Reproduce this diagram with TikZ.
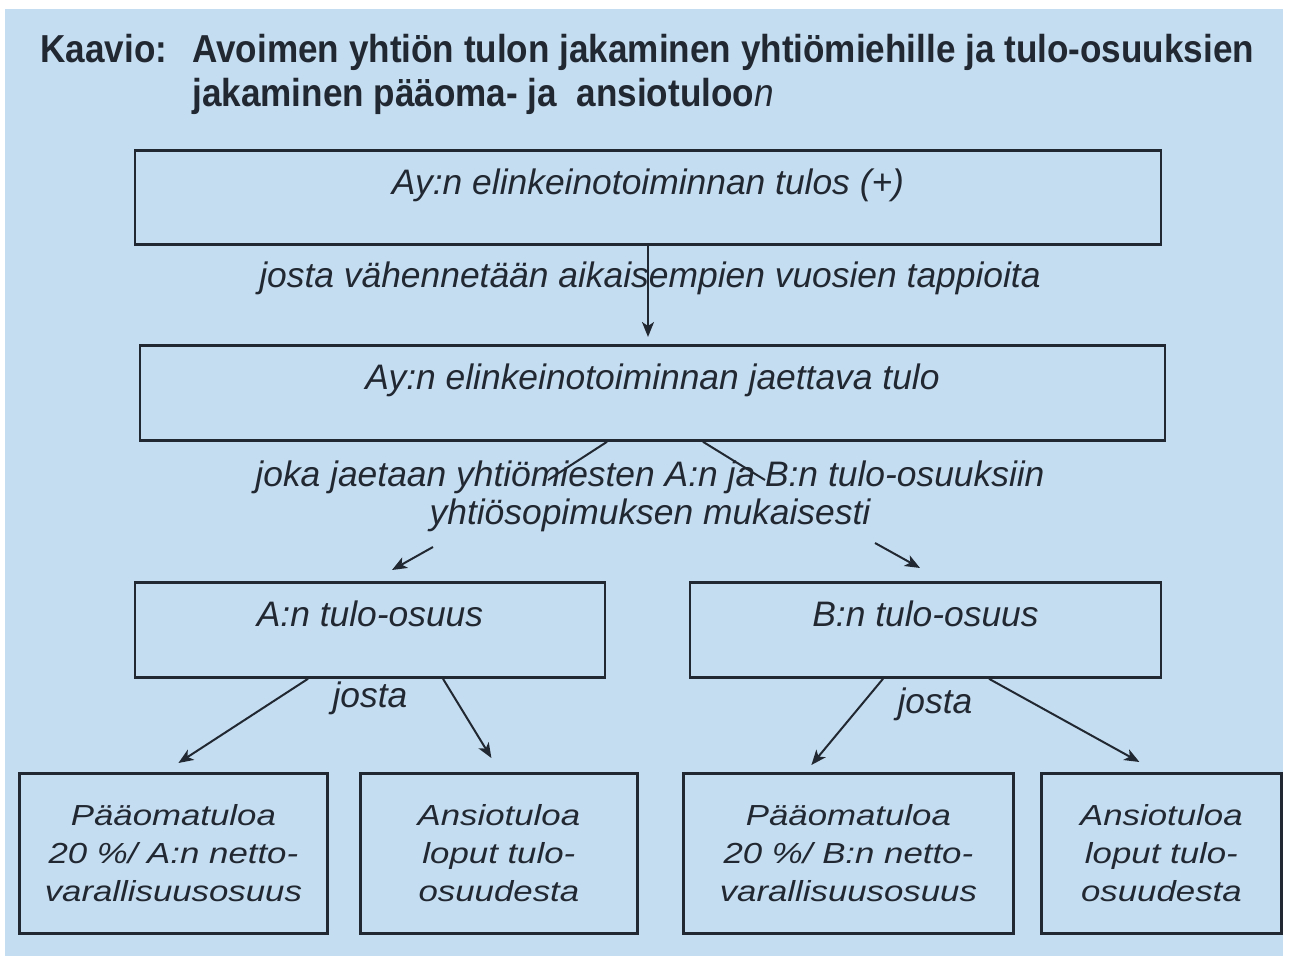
\documentclass[tikz,border=0pt]{standalone}
\usepackage{fontspec}
\setmainfont{Liberation Sans}
\newfontfamily\titlefont{Liberation Sans}[FakeStretch=0.9]
\newfontfamily\widefont{Liberation Sans}[FakeStretch=1.2]
\usetikzlibrary{arrows.meta}
\definecolor{bg}{RGB}{197,221,240}
\definecolor{ink}{RGB}{34,40,50}
\begin{document}
\begin{tikzpicture}[x=0.5pt,y=-0.5pt,
  box/.style={draw=ink, line width=1.4pt, inner sep=0pt, anchor=north,
    font=\fontsize{17.7}{20}\selectfont\itshape, text=ink},
  lbl/.style={anchor=base, inner sep=0pt, font=\fontsize{17.7}{20}\selectfont\itshape, text=ink},
  conn/.style={draw=ink, line width=1pt},
  arr/.style={conn, -{Stealth[length=7.5pt,width=6pt,inset=2pt]}},
  leaf/.style={draw=ink, line width=1.4pt, inner sep=0pt, anchor=north west, align=center,
    minimum height=80pt, font=\widefont\fontsize{14.5}{19}\selectfont\itshape, text=ink},
  ttl/.style={anchor=base west, inner sep=0pt, font=\titlefont\fontsize{19.5}{22}\selectfont\bfseries, text=ink}]

\useasboundingbox (0,0) rectangle (1291,956);
\fill[bg] (5,9) rectangle (1283,956);

% title
\node[ttl] (t0) at (40,63) {Kaavio:};
\node[ttl] (t1) at (192,63) {Avoimen yhtiön tulon jakaminen yhtiömiehille ja tulo-osuuksien};
\node[ttl] (t2) at (192,107) {jakaminen pääoma- ja\ \ ansiotuloo{\mdseries\itshape n}};

% main boxes
\node[box, minimum width=513pt, text height=22pt, text depth=25pt] (b1) at (648,149)
  {Ay:n elinkeinotoiminnan tulos (+)};
\node[box, minimum width=512.5pt, text height=22pt, text depth=25.5pt] (b2) at (652.5,344)
  {Ay:n elinkeinotoiminnan jaettava tulo};
\node[box, minimum width=235pt, text height=22pt, text depth=25.5pt] (bA) at (370,581)
  {A:n tulo-osuus};
\node[box, minimum width=235.5pt, text height=22pt, text depth=25.5pt] (bB) at (925.5,581)
  {B:n tulo-osuus};

% leaves
\node[leaf, minimum width=154pt] (a1) at (18,772) {Pääomatuloa\\20 \%/ A:n netto-\\varallisuusosuus};
\node[leaf, minimum width=138.5pt] (a2) at (359,772) {Ansiotuloa\\loput tulo-\\osuudesta};
\node[leaf, minimum width=165pt] (c1) at (682,772) {Pääomatuloa\\20 \%/ B:n netto-\\varallisuusosuus};
\node[leaf, minimum width=120pt] (c2) at (1040,772) {Ansiotuloa\\loput tulo-\\osuudesta};

% labels
\node[lbl] (l1) at (650,288) {josta vähennetään aikaisempien vuosien tappioita};
\node[lbl] (l2) at (650,487) {joka jaetaan yhtiömiesten A:n ja B:n tulo-osuuksiin};
\node[lbl] (l3) at (650,525) {yhtiösopimuksen mukaisesti};
\node[lbl] (jA) at (370,708) {josta};
\node[lbl] (jB) at (935,713) {josta};

% connectors
\draw[arr, shorten >=3.5pt] (b1.south) -- (b1.south |- b2.north);

\coordinate (sl) at (548,480);
\coordinate (sr) at (765,480);
\draw[conn] ([xshift=-22.75pt]b2.south) -- (sl);
\draw[conn] ([xshift=25.25pt]b2.south) -- (sr);

\coordinate (al) at (433,547);
\coordinate (ar) at (875,543);
\draw[arr] (al) -- ([xshift=11pt,yshift=5.5pt]bA.north);
\draw[arr] (ar) -- ([xshift=-2.75pt,yshift=6.5pt]bB.north);

\draw[arr] ([xshift=-31pt]bA.south) -- ([xshift=2.5pt,yshift=4.5pt]a1.north);
\draw[arr] ([xshift=36.5pt]bA.south) -- ([xshift=-3.75pt,yshift=7pt]a2.north);
\draw[arr] ([xshift=-21.25pt]bB.south) -- ([xshift=-18.5pt,yshift=3.5pt]c1.north);
\draw[arr] ([xshift=31.75pt]bB.south) -- ([xshift=-11pt,yshift=5pt]c2.north);
\end{tikzpicture}
\end{document}
